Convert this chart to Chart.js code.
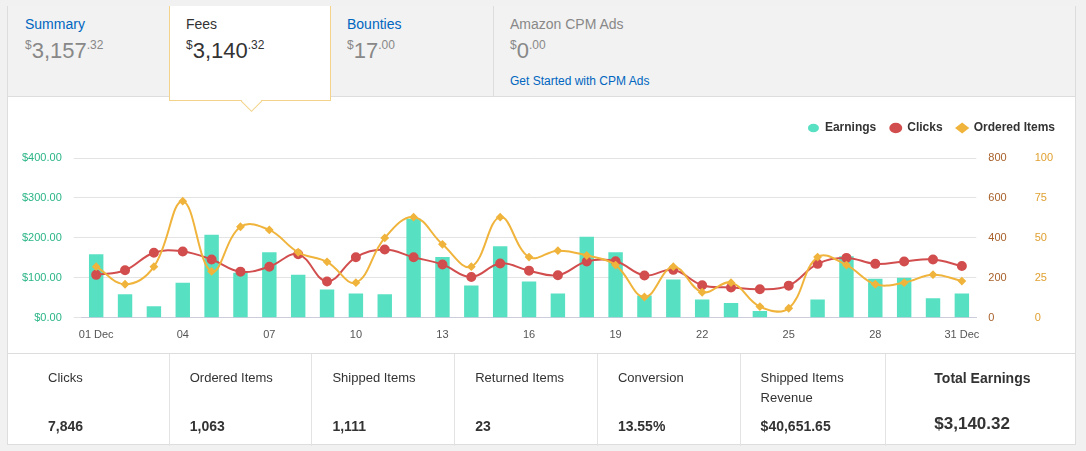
<!DOCTYPE html>
<html>
<head>
<meta charset="utf-8">
<script src="https://cdn.jsdelivr.net/npm/chart.js@4"></script>
<style>
  body { margin: 0; background: #f1f1f1; font-family: "Liberation Sans", Arial, sans-serif; width: 1086px; height: 451px; overflow: hidden; }
  .panel { position: absolute; left: 7px; top: 6px; width: 1069px; height: 439px; background: #fff; border: 1px solid #ddd; border-top: none; box-sizing: border-box; }
  .tabs { position: absolute; left: 0; top: 0; width: 100%; height: 90px; background: #f2f2f2; border-bottom: 1px solid #ddd; }
  .tab { position: absolute; top: 0; height: 90px; box-sizing: border-box; padding: 10px 16px; }
  .tab .t { font-size: 14px; color: #0066c0; }
  .tab .v { margin-top: 6px; font-size: 22px; color: #888; }
  .tab .v sup { font-size: 12px; vertical-align: 9px; }
  .tab.active { background: #fff; border: 1px solid #f3d38a; border-top: none; height: 95px; z-index: 2; }
  .tab.active .t { color: #333; }
  .tab.active .v { color: #333; }
  .arrow { position: absolute; left: 74px; bottom: -9px; width: 14px; height: 14px; background: #fff; border-right: 1px solid #f3d38a; border-bottom: 1px solid #f3d38a; transform: rotate(45deg); }
  .chartbox { position: absolute; left: 0; top: 96px; width: 1067px; height: 252px; }
  .stats { position: absolute; left: 0; top: 347px; width: 100%; height: 92px; border-top: 1px solid #ddd; display: flex; }
  .cell { box-sizing: border-box; border-right: 1px solid #e3e3e3; padding: 16px 0 0 20px; font-size: 13px; color: #333; position: relative; }
  .cell:first-child { padding-left: 40px; }
  .cell:last-child { border-right: none; padding-left: 48px; }
  .cell .n { position: absolute; top: 64px; font-weight: bold; font-size: 14px; }
  .cell:last-child .n { top: 60px; font-size: 17px; }
  .cell:last-child .l { font-weight: bold; font-size: 14px; }
</style>
</head>
<body>
<div class="panel">
  <div class="tabs">
    <div class="tab" style="left:0;width:161px;padding-left:17px"><div class="t">Summary</div><div class="v"><sup>$</sup>3,157<sup>.32</sup></div></div>
    <div class="tab active" style="left:161px;width:162px;"><div class="t">Fees</div><div class="v"><sup>$</sup>3,140<sup>.32</sup></div><div class="arrow"></div></div>
    <div class="tab" style="left:323px;width:162px;"><div class="t">Bounties</div><div class="v"><sup>$</sup>17<sup>.00</sup></div></div>
    <div class="tab" style="left:485px;width:584px;border-left:1px solid #ddd;"><div class="t" style="color:#888">Amazon CPM Ads</div><div class="v"><sup>$</sup>0<sup>.00</sup></div><div style="font-size:12px;color:#0066c0;margin-top:10px">Get Started with CPM Ads</div></div>
  </div>
  <div class="chartbox"><canvas id="c"></canvas></div>
  <div class="stats">
    <div class="cell" style="width:162px"><div class="l">Clicks</div><div class="n">7,846</div></div>
    <div class="cell" style="width:143px"><div class="l">Ordered Items</div><div class="n">1,063</div></div>
    <div class="cell" style="width:143px"><div class="l">Shipped Items</div><div class="n">1,111</div></div>
    <div class="cell" style="width:143px"><div class="l">Returned Items</div><div class="n">23</div></div>
    <div class="cell" style="width:143px"><div class="l">Conversion</div><div class="n">13.55%</div></div>
    <div class="cell" style="width:146px"><div class="l" style="line-height:20px;margin-top:-2px">Shipped Items<br>Revenue</div><div class="n">$40,651.65</div></div>
    <div class="cell" style="width:189px"><div class="l">Total Earnings</div><div class="n">$3,140.32</div></div>
  </div>
</div>
<script>
var days = [];
for (var i = 1; i <= 31; i++) days.push(i < 10 ? "0" + i : "" + i);

var earnings = [159, 59, 29, 88, 208, 113, 164, 108, 71, 61, 59, 248, 152, 81, 179, 91,
                61, 203, 164, 56, 96, 46, 37, 17, 0, 46, 154, 98, 100, 49, 61];
var clicks = [215, 238, 326, 332, 292, 231, 256, 318, 182, 303, 342, 303, 267, 204, 272, 236,
              213, 282, 283, 212, 240, 163, 152, 143, 161, 270, 300, 270, 282, 292, 259];
var orderedItems = [32, 21, 32, 73, 29, 57, 55, 41, 35, 22, 50, 63, 46, 32, 63, 38,
                    42, 39, 33, 13, 32, 16, 22, 7, 6, 38, 33, 21, 22, 27, 23];

Chart.defaults.font.family = '"Liberation Sans", Arial, sans-serif';
Chart.defaults.font.size = 11;

// extra room under the legend
var legendGap = {
    id: "legendGap",
    beforeInit: function (chart) {
        var fit = chart.legend.fit;
        chart.legend.fit = function () {
            fit.bind(chart.legend)();
            this.height += 14;
        };
    }
};

var ctx = document.getElementById("c").getContext("2d");
new Chart(ctx, {
    data: {
        labels: days,
        datasets: [
            { type: "bar", label: "Earnings", data: earnings, yAxisID: "y", backgroundColor: "#58e0c2",
              barPercentage: 0.5, categoryPercentage: 1, pointStyle: "circle", order: 3 },
            { type: "line", label: "Clicks", data: clicks, yAxisID: "yc", borderColor: "#d24d4d",
              backgroundColor: "#d24d4d", borderWidth: 2, pointRadius: 4, tension: 0.4, pointStyle: "circle", order: 2 },
            { type: "line", label: "Ordered Items", data: orderedItems, yAxisID: "yo", borderColor: "#f0b43c",
              backgroundColor: "#f0b43c", borderWidth: 2, pointRadius: 3, tension: 0.4, pointStyle: "rectRot", order: 1 }
        ]
    },
    options: {
        responsive: true,
        maintainAspectRatio: false,
        animation: false,
        layout: { padding: { left: 2, right: 6, top: 6, bottom: 9 } },
        plugins: {
            legend: {
                position: "top", align: "end",
                labels: { usePointStyle: true, pointStyleWidth: 11, boxHeight: 6, padding: 14, color: "#333",
                          font: { weight: "bold", size: 12 },
                          sort: function (a, b) { return a.datasetIndex - b.datasetIndex; } }
            },
            tooltip: { enabled: false }
        },
        scales: {
            x: {
                grid: { display: false },
                border: { color: "#ccd" },
                ticks: {
                    color: "#555", maxRotation: 0, autoSkip: false,
                    callback: function (v, i) {
                        if (i === 0) return "01 Dec";
                        if (i === 30) return "31 Dec";
                        return i % 3 === 0 ? days[i] : "";
                    }
                }
            },
            y: {
                position: "left", min: 0, max: 400,
                ticks: { stepSize: 100, color: "#2ab585", padding: 12,
                         callback: function (v) { return "$" + v.toFixed(2); } },
                grid: { color: "#e3e3e3" }, border: { display: false }
            },
            yc: {
                position: "right", min: 0, max: 800,
                ticks: { stepSize: 200, color: "#a8602a", padding: 4 },
                grid: { display: false }, border: { display: false }
            },
            yo: {
                position: "right", min: 0, max: 100,
                ticks: { stepSize: 25, color: "#e0a030", padding: 16 },
                grid: { display: false }, border: { display: false }
            }
        }
    },
    plugins: [legendGap]
});
</script>
</body>
</html>
